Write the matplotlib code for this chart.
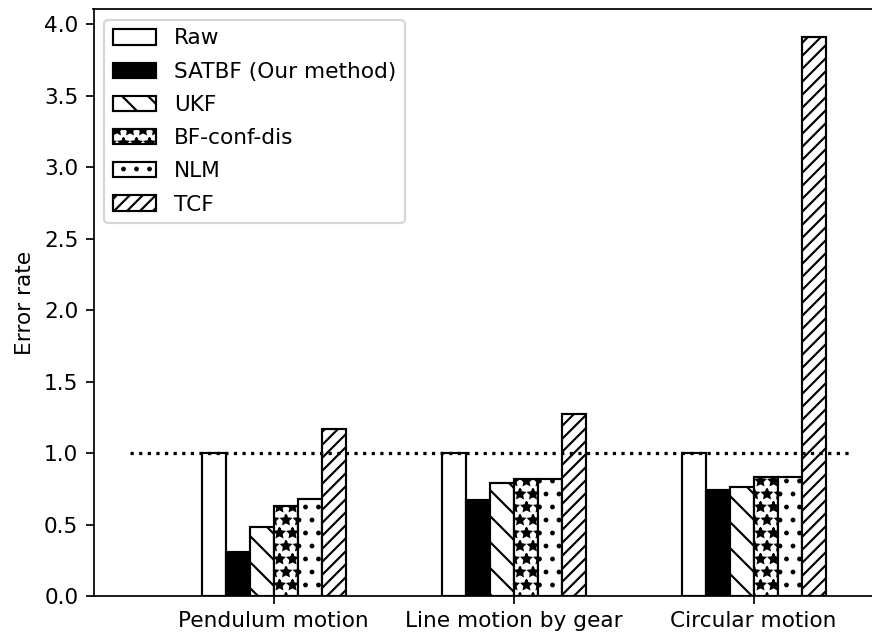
import numpy as np
import matplotlib
matplotlib.use("Agg")
import matplotlib.pyplot as plt

# Datos
escenarios = ["Pendulum motion", "Line motion by gear", "Circular motion"]
metodos = ["Raw", "SATBF (Our method)", "UKF", "BF-conf-dis", "NLM", "TCF"]
raw = [1.0, 1.0, 1.0]
satbf = [0.31, 0.67, 0.74]
ukf = [0.48, 0.79, 0.76]
bf_conf_dis = [0.63, 0.82, 0.83]
nlm = [0.68, 0.82, 0.83]
tcf = [1.17, 1.27, 3.91]

series = [raw, satbf, ukf, bf_conf_dis, nlm, tcf]
colores = ["white", "black", "white", "white", "white", "white"]
tramas = ["", "", "\\\\", "**", "..", "////"]

dpi = 156
fig = plt.figure(figsize=(872 / dpi, 635 / dpi), dpi=dpi)
ax = fig.add_axes([93.5 / 872, 1 - 596 / 635, 792 / 872, 587 / 635])

x = np.arange(len(escenarios))
ancho = 0.1
for i, (vals, nombre) in enumerate(zip(series, metodos)):
    ax.bar(x + (i - 3) * ancho, vals, width=ancho, align="edge",
           color=colores[i], edgecolor="black", hatch=tramas[i],
           label=nombre)

ax.hlines(1.0, -0.6, 2.4, colors="black", linestyles=":")

ax.set_xlim(-0.75, 2.55)
ax.set_ylim(0, 4.1055)
ax.set_xticks(x)
ax.set_xticklabels(escenarios)
ax.set_yticks(np.arange(0, 4.01, 0.5))
ax.set_ylabel("Error rate")
ax.legend(loc="upper left", labelspacing=0.61)

fig.savefig("out.png", dpi=dpi)
